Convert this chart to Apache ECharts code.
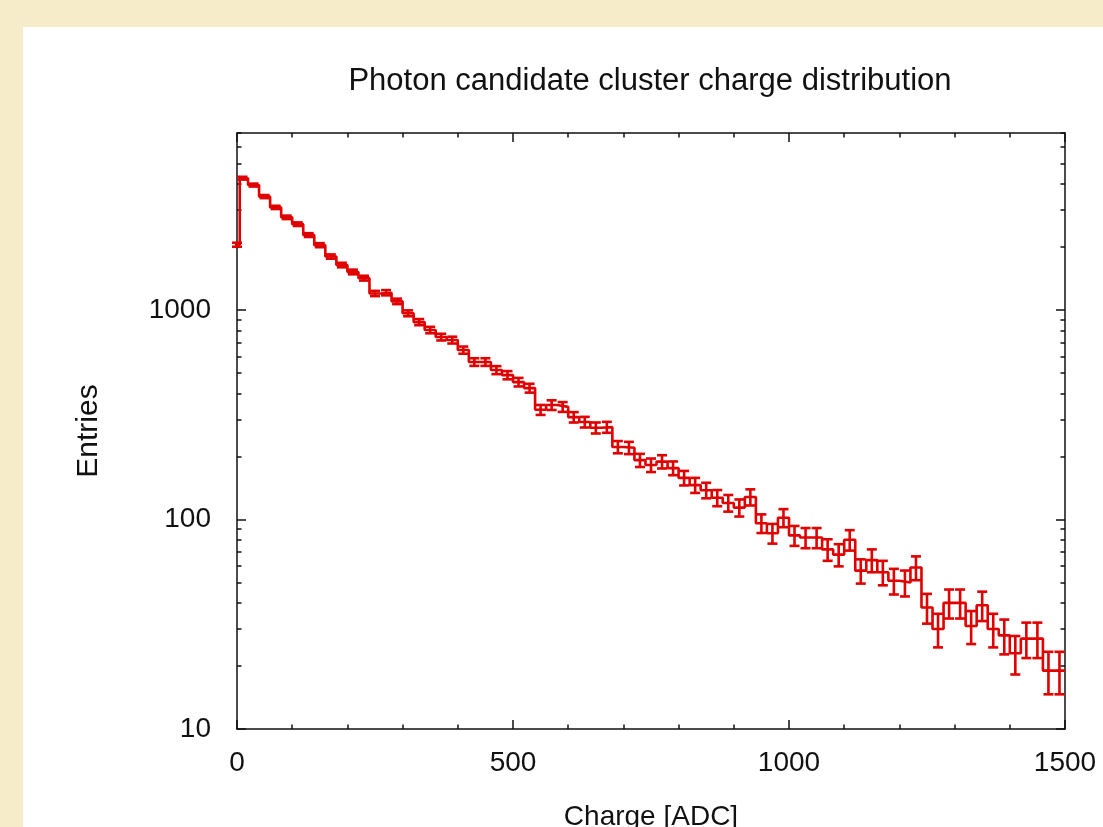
<!DOCTYPE html>
<html>
<head>
<meta charset="utf-8">
<title>Photon candidate cluster charge distribution</title>
<script src="https://cdn.jsdelivr.net/npm/echarts@6/dist/echarts.min.js"></script>
<style>
  html, body { margin: 0; padding: 0; width: 1103px; height: 827px; background: #f6ecca; overflow: hidden; }
  #panel { position: absolute; left: 23px; top: 27px; right: 0; bottom: 0; background: #fff; }
  #chart { position: absolute; left: 0; top: 0; width: 1103px; height: 827px; }
</style>
</head>
<body>
<div id="panel"></div>
<div id="chart"></div>
<script>
// bin centres [ADC]
const charge = [
  0, 10, 30, 50, 70, 90, 110, 130, 150, 170, 190,
  210, 230, 250, 270, 290, 310, 330, 350, 370, 390,
  410, 430, 450, 470, 490, 510, 530, 550, 570, 590,
  610, 630, 650, 670, 690, 710, 730, 750, 770, 790,
  810, 830, 850, 870, 890, 910, 930, 950, 970, 990,
  1010, 1030, 1050, 1070, 1090, 1110, 1130, 1150, 1170, 1190,
  1210, 1230, 1250, 1270, 1290, 1310, 1330, 1350, 1370, 1390,
  1410, 1430, 1450, 1470, 1490
]
// entries per bin
const entries = [
  2050, 4260, 3950, 3480, 3090, 2770, 2570, 2280, 2040, 1800, 1640,
  1520, 1420, 1200, 1210, 1100, 965, 876, 803, 743, 719,
  644, 565, 565, 517, 489, 453, 424, 334, 352, 345,
  308, 292, 274, 276, 222, 220, 192, 182, 189, 176,
  158, 146, 138, 127, 120, 114, 128, 96, 86, 102,
  84, 82, 82, 72, 68, 80, 57, 64, 56, 51,
  50, 59, 38, 30, 40, 40, 31, 39, 30, 28,
  23, 27, 27, 19, 19
]
const yMajorTicks = [10, 100, 1000]
const yMinorTicks = [20, 30, 40, 50, 60, 70, 80, 90, 200, 300, 400, 500, 600, 700, 800, 900, 2000, 3000, 4000, 5000, 6000, 7000]

const RED = '#e00000'
const FONT = 'Liberation Sans'
const INK = '#111'

// histeps: horizontal segment per bin between the midpoints of neighbouring centres
let steps = []
charge.forEach((c, i) => {
  let n = charge.length
  let left = i === 0 ? c - (charge[1] - charge[0]) / 2 : (charge[i - 1] + c) / 2
  let right = i === n - 1 ? c + (charge[n - 1] - charge[n - 2]) / 2 : (c + charge[i + 1]) / 2
  steps.push([left, entries[i]])
  steps.push([right, entries[i]])
})
let errData = charge.map((c, i) => [c, entries[i], Math.sqrt(entries[i])])

let myChart = echarts.init(document.getElementById('chart'))

const frameLine = { show: true, lineStyle: { color: INK, width: 1.5 } }
const tickStyle = { color: INK, width: 1.5 }

let option = {
  animation: false,
  title: {
    text: 'Photon candidate cluster charge distribution',
    left: 645,
    top: 61,
    textAlign: 'center',
    textStyle: { fontFamily: FONT, fontSize: 31, fontWeight: 'normal', color: INK },
  },
  grid: { left: 237, top: 133, width: 828, height: 596, outerBoundsMode: 'none', containLabel: false },
  xAxis: [
    {
      type: 'value',
      position: 'bottom',
      min: 0,
      max: 1500,
      interval: 500,
      axisLine: frameLine,
      axisTick: { inside: true, length: 9, lineStyle: tickStyle },
      minorTick: { show: true, splitNumber: 5, length: 4.5, lineStyle: tickStyle },
      splitLine: { show: false },
      axisLabel: { fontFamily: FONT, fontSize: 28, color: INK, margin: 20, formatter: (v) => String(v) },
      name: 'Charge [ADC]',
      nameLocation: 'middle',
      nameGap: 74,
      nameTextStyle: { fontFamily: FONT, fontSize: 28, color: INK },
    },
    {
      type: 'value',
      position: 'top',
      min: 0,
      max: 1500,
      interval: 500,
      axisLine: frameLine,
      axisTick: { inside: true, length: 9, lineStyle: tickStyle },
      minorTick: { show: true, splitNumber: 5, length: 4.5, lineStyle: tickStyle },
      splitLine: { show: false },
      axisLabel: { show: false },
    },
  ],
  yAxis: [
    {
      type: 'log',
      logBase: 10,
      position: 'left',
      min: 10,
      max: 7000,
      axisLine: frameLine,
      axisTick: { inside: true, length: 9, customValues: yMajorTicks, lineStyle: tickStyle },
      axisLabel: {
        customValues: yMajorTicks,
        fontFamily: FONT,
        fontSize: 28,
        color: INK,
        margin: 26,
        formatter: (v) => String(v),
      },
      splitLine: { show: false },
      minorTick: { show: false },
      name: 'Entries',
      nameLocation: 'middle',
      nameRotate: 90,
      nameGap: 133,
      nameTextStyle: { fontFamily: FONT, fontSize: 30, color: INK },
    },
    {
      type: 'log',
      logBase: 10,
      position: 'left',
      min: 10,
      max: 7000,
      axisLine: { show: false },
      axisTick: { inside: true, length: 4.5, customValues: yMinorTicks, lineStyle: tickStyle },
      axisLabel: { show: false },
      splitLine: { show: false },
    },
    {
      type: 'log',
      logBase: 10,
      position: 'right',
      min: 10,
      max: 7000,
      axisLine: frameLine,
      axisTick: { inside: true, length: 9, customValues: yMajorTicks, lineStyle: tickStyle },
      axisLabel: { show: false },
      splitLine: { show: false },
    },
    {
      type: 'log',
      logBase: 10,
      position: 'right',
      min: 10,
      max: 7000,
      axisLine: { show: false },
      axisTick: { inside: true, length: 4.5, customValues: yMinorTicks, lineStyle: tickStyle },
      axisLabel: { show: false },
      splitLine: { show: false },
    },
  ],
  series: [
    {
      name: 'histeps',
      type: 'line',
      xAxisIndex: 0,
      yAxisIndex: 0,
      data: steps,
      symbol: 'none',
      clip: false,
      lineStyle: { color: RED, width: 2.6 },
    },
    {
      name: 'errors',
      type: 'custom',
      xAxisIndex: 0,
      yAxisIndex: 0,
      clip: false,
      data: errData,
      encode: { x: 0, y: 1 },
      renderItem: (params, api) => {
        let x = api.value(0)
        let v = api.value(1)
        let e = api.value(2)
        let hi = api.coord([x, v + e])
        let lo = api.coord([x, v - e])
        let hw = 5
        let style = { stroke: RED, lineWidth: 2.6 }
        return {
          type: 'group',
          children: [
            { type: 'line', shape: { x1: hi[0], y1: hi[1], x2: lo[0], y2: lo[1] }, style: style },
            { type: 'line', shape: { x1: hi[0] - hw, y1: hi[1], x2: hi[0] + hw, y2: hi[1] }, style: style },
            { type: 'line', shape: { x1: lo[0] - hw, y1: lo[1], x2: lo[0] + hw, y2: lo[1] }, style: style },
          ],
        }
      },
    },
  ],
}
myChart.setOption(option, true)
</script>
</body>
</html>
